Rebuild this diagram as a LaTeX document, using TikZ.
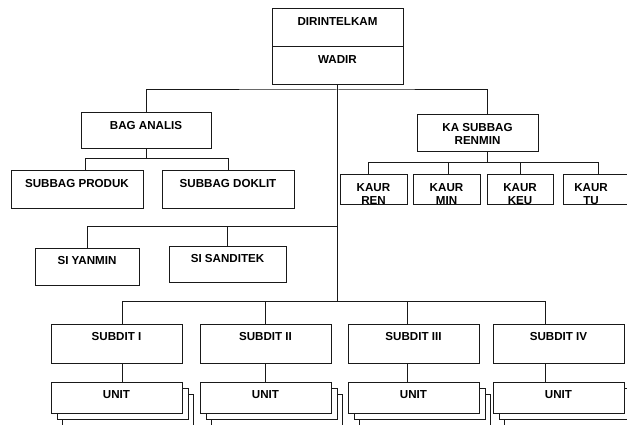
\documentclass[tikz,border=0pt]{standalone}
\usepackage{fontspec}
\setmainfont{Liberation Sans}
\begin{document}
\begin{tikzpicture}[x=1pt,y=-1pt,
  box/.style={draw=black!90, fill=white, line width=1pt, inner sep=0pt, outer sep=0pt},
  lbl/.style={anchor=north, inner sep=0pt, align=center, text=black,
    font=\fontsize{11.6}{13}\selectfont\bfseries},
  conn/.style={draw=black!90, line width=1pt}]
\useasboundingbox (0,0) rectangle (627,425);
\clip (0,0) rectangle (627,425);
\fill[white] (0,0) rectangle (627,425);
\newcommand{\orgbox}[6]{%
  \node[box, minimum width={#4-#2}, minimum height={#5-#3}] (#1) at ({(#2+#4)/2},{(#3+#5)/2}) {};
  \node[lbl] (#1-t) at ([yshift=-8]#1.north) {#6};}
\newcommand{\plainbox}[5]{%
  \node[box, minimum width={#4-#2}, minimum height={#5-#3}] (#1) at ({(#2+#4)/2},{(#3+#5)/2}) {};}
% top
\orgbox{dir}{272}{9}{403}{47}{DIRINTELKAM}
\orgbox{wadir}{272}{47}{403}{85}{WADIR}
% bag analis
\orgbox{bag}{81}{113}{211}{149}{BAG ANALIS}
\orgbox{sbprod}{11}{171}{143}{209}{SUBBAG PRODUK}
\orgbox{sbdok}{162}{171}{294}{209}{SUBBAG DOKLIT}
% renmin
\orgbox{kasub}{417}{115}{538}{152}{KA SUBBAG\\RENMIN}
\orgbox{kren}{340}{175}{407}{205}{KAUR\\REN}
\orgbox{kmin}{413}{175}{480}{205}{KAUR\\MIN}
\orgbox{kkeu}{487}{175}{553}{205}{KAUR\\KEU}
\plainbox{ktu}{563}{175}{630}{205}
\node[lbl] (ktu-t) at ([xshift=-5.5,yshift=-8]ktu.north) {KAUR\\TU};
% si
\orgbox{siyan}{35}{248}{139}{285}{SI YANMIN}
\orgbox{sisan}{169}{246}{286}{282}{SI SANDITEK}
% subdit
\orgbox{sd1}{51}{324}{182}{363}{SUBDIT I}
\orgbox{sd2}{200}{324}{331}{363}{SUBDIT II}
\orgbox{sd3}{348}{324}{479}{363}{SUBDIT III}
\orgbox{sd4}{493}{324}{624}{363}{SUBDIT IV}
% unit stacks
\plainbox{ua3}{62}{394}{193}{440}
\plainbox{ua2}{57}{388}{188}{419}
\orgbox{ua}{51}{382}{182}{413}{UNIT}
\plainbox{ub3}{211}{394}{342}{440}
\plainbox{ub2}{206}{388}{337}{419}
\orgbox{ub}{200}{382}{331}{413}{UNIT}
\plainbox{uc3}{359}{394}{490}{440}
\plainbox{uc2}{354}{388}{485}{419}
\orgbox{uc}{348}{382}{479}{413}{UNIT}
\plainbox{ud3}{504}{394}{635}{440}
\plainbox{ud2}{499}{388}{630}{419}
\orgbox{ud}{493}{382}{624}{413}{UNIT}
% bars
\coordinate (barA) at (0,90);
\coordinate (barB) at (0,159);
\coordinate (barC) at (0,163);
\coordinate (barE) at (0,226);
\coordinate (barD) at (0,301);
% trunk
\draw[conn] (wadir.south) -- (wadir.south |- barD);
\draw[conn] (bag.north) |- (barA -| wadir.south) -| ([xshift=9.5]kasub.north);
% bag analis branch
\draw[conn] (bag.south) -- (bag.south |- barB);
\draw[conn] ([xshift=8]sbprod.north) |- (barB -| sbdok.north) -- (sbdok.north);
% renmin branch
\draw[conn] ([xshift=9.5]kasub.south) -- ([xshift=9.5]kasub.south |- barC);
\draw[conn] ([xshift=-5.5]kren.north) |- ([xshift=1.5]barC -| ktu.north) -- ([xshift=1.5]ktu.north);
\draw[conn] ([xshift=1.5]kmin.north) -- ([xshift=1.5]kmin.north |- barC);
\draw[conn] (kkeu.north) -- (kkeu.north |- barC);
% si branch
\draw[conn] (siyan.north) |- (barE -| wadir.south);
\draw[conn] (sisan.north) -- (sisan.north |- barE);
% subdit branch
\draw[conn] ([xshift=5.5]sd1.north) |- ([xshift=-13.5]barD -| sd4.north) -- ([xshift=-13.5]sd4.north);
\draw[conn] (sd2.north) -- (sd2.north |- barD);
\draw[conn] ([xshift=-6.5]sd3.north) -- ([xshift=-6.5]sd3.north |- barD);
% subdit to unit
\draw[conn] ([xshift=5.5]sd1.south) -- ([xshift=5.5]ua.north);
\draw[conn] (sd2.south) -- (ub.north);
\draw[conn] ([xshift=-6.5]sd3.south) -- ([xshift=-6.5]uc.north);
\draw[conn] ([xshift=-13.5]sd4.south) -- ([xshift=-13.5]ud.north);
\end{tikzpicture}
\end{document}
